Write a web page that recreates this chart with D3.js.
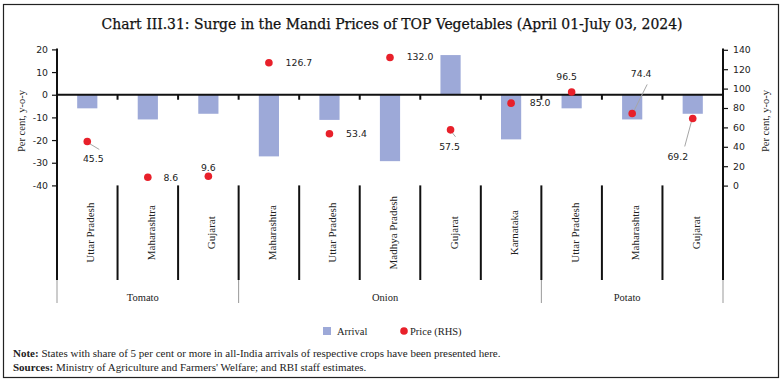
<!DOCTYPE html>
<html><head><meta charset="utf-8">
<script src="https://cdn.jsdelivr.net/npm/d3@7"></script>
<style>
html,body{margin:0;padding:0;background:#fff;}
svg{display:block;}
</style></head>
<body>
<svg id="chart" width="784" height="385"></svg>
<script>
// ---- data ----
const states = ["Uttar Pradesh","Maharashtra","Gujarat","Maharashtra","Uttar Pradesh","Madhya Pradesh","Gujarat","Karnataka","Uttar Pradesh","Maharashtra","Gujarat"];
const groupNames = ["Tomato","Onion","Potato"];
const groupSizes = [3,5,3];
const arrival = [-6.0,-10.9,-8.4,-27.2,-11.1,-29.3,17.5,-19.7,-6.0,-10.9,-8.4];
const price = [45.5,8.6,9.6,126.7,53.4,132.0,57.5,85.0,96.5,74.4,69.2];
const leftTicks = [-40,-30,-20,-10,0,10,20];
const rightTicks = [0,20,40,60,80,100,120,140];
// label layout (offsets of price labels from their dots) and leader lines
const labelOffsets = [[6,17],[23,0],[0,-9],[30,0],[27,0],[30,-1],[-1,17],[29,-1],[-5,-15],[9,-40],[-15,38]];
const leaders = [[[2,2],[12,8]],null,null,null,null,null,[[1,2],[5,7]],null,null,[[2,-3],[15,-29]],[[-1,2],[-8,28]]];

const svg = d3.select("#chart");
const serif = "'Liberation Serif', serif";
const sans = "'DejaVu Sans', sans-serif";

// border
svg.append("rect").attr("x",3.5).attr("y",4.5).attr("width",775).attr("height",373)
  .attr("fill","none").attr("stroke","#222").attr("stroke-width",1.2);

// title
const title = svg.append("text").attr("x",392).attr("y",29).attr("text-anchor","middle")
  .attr("font-family","'DejaVu Serif Condensed', serif").attr("font-size",15.5).attr("fill","#111")
  .attr("stroke","#111").attr("stroke-width",0.25)
  .text("Chart III.31: Surge in the Mandi Prices of TOP Vegetables (April 01-July 03, 2024)");
title.attr("textLength",581).attr("lengthAdjust","spacingAndGlyphs");

const x0 = 57, x1 = 723;
const x = d3.scaleBand().domain(d3.range(states.length)).range([x0,x1]).paddingInner(0).paddingOuter(0);
const bw = x.bandwidth();
const yL = d3.scaleLinear().domain([-40,20]).range([185.4,49.4]);
const yR = d3.scaleLinear().domain([0,140]).range([185.6,49.8]);
const fmt = d => String(d);

// bars
svg.append("g").selectAll("rect").data(arrival).join("rect")
  .attr("x",(d,i)=>x(i)+bw/3).attr("width",bw/3)
  .attr("y",d=>Math.min(yL(0),yL(d))).attr("height",d=>Math.abs(yL(d)-yL(0)))
  .attr("fill","#9DA9D8");

// left axis
const axL = svg.append("g").attr("transform",`translate(${x0},0)`)
  .call(d3.axisLeft(yL).tickValues(leftTicks).tickFormat(fmt).tickSize(5).tickPadding(4));
axL.select(".domain").remove();
axL.selectAll("line").attr("stroke","#111").attr("stroke-width",1.2);
axL.selectAll("text").attr("font-family",sans).attr("font-size",9.3).attr("fill","#222");

// right axis
const axR = svg.append("g").attr("transform",`translate(${x1},0)`)
  .call(d3.axisRight(yR).tickValues(rightTicks).tickFormat(fmt).tickSize(5).tickPadding(5));
axR.select(".domain").remove();
axR.selectAll("line").attr("stroke","#111").attr("stroke-width",1.2);
axR.selectAll("text").attr("font-family",sans).attr("font-size",9.3).attr("fill","#222");

const yBot = 280, yGrp = 303;
// vertical axis lines
[x0,x1].forEach(xx=>{
  svg.append("line").attr("x1",xx).attr("x2",xx).attr("y1",yL(20)-1).attr("y2",yBot).attr("stroke","#111").attr("stroke-width",2);
});
// category dividers (multi-level axis)
const bounds = d3.range(1,states.length).map(i=>x(i));
svg.append("g").selectAll("line").data(bounds).join("line")
  .attr("x1",d=>d).attr("x2",d=>d).attr("y1",yL(-40)).attr("y2",yBot)
  .attr("stroke","#111").attr("stroke-width",2);
// tick marks on zero line
svg.append("g").selectAll("line").data(bounds).join("line")
  .attr("x1",d=>d).attr("x2",d=>d).attr("y1",yL(0)).attr("y2",yL(0)+5)
  .attr("stroke","#111").attr("stroke-width",2);
// zero line
svg.append("line").attr("x1",x0).attr("x2",x1).attr("y1",yL(0)).attr("y2",yL(0))
  .attr("stroke","#111").attr("stroke-width",2);

// group separators
let acc = 0; const gStarts = [0];
groupSizes.forEach(s=>{acc+=s; gStarts.push(acc);});
svg.append("g").selectAll("line").data(gStarts).join("line")
  .attr("x1",d=>d<states.length?x(d):x1).attr("x2",d=>d<states.length?x(d):x1)
  .attr("y1",yBot).attr("y2",yGrp).attr("stroke","#999").attr("stroke-width",1);
// group labels
svg.append("g").selectAll("text").data(groupNames).join("text")
  .attr("x",(d,i)=>{const a=x(gStarts[i]); const b=gStarts[i+1]<states.length?x(gStarts[i+1]):x1; return (a+b)/2 - 5;})
  .attr("y",297).attr("dominant-baseline","central").attr("text-anchor","middle")
  .attr("font-family",serif).attr("font-size",10.5).attr("fill","#222").text(d=>d);

// category labels
svg.append("g").selectAll("text").data(states).join("text")
  .attr("transform",(d,i)=>`translate(${x(i)+bw/2+3},${(yL(-40)+yBot)/2}) rotate(-90)`)
  .attr("text-anchor","middle").attr("dominant-baseline","central")
  .attr("font-family",serif).attr("font-size",11).attr("fill","#222").text(d=>d);

// leader lines
svg.append("g").selectAll("line").data(leaders.map((l,i)=>({l,i})).filter(d=>d.l)).join("line")
  .attr("x1",d=>x(d.i)+bw/2+d.l[0][0]).attr("y1",d=>yR(price[d.i])+d.l[0][1])
  .attr("x2",d=>x(d.i)+bw/2+d.l[1][0]).attr("y2",d=>yR(price[d.i])+d.l[1][1])
  .attr("stroke","#A6A6A6").attr("stroke-width",1);

// price dots
svg.append("g").selectAll("circle").data(price).join("circle")
  .attr("cx",(d,i)=>x(i)+bw/2).attr("cy",d=>yR(d)).attr("r",3.8).attr("fill","#E8202A");

// price labels
svg.append("g").selectAll("text").data(price).join("text")
  .attr("x",(d,i)=>x(i)+bw/2+labelOffsets[i][0]).attr("y",(d,i)=>yR(d)+labelOffsets[i][1])
  .attr("text-anchor","middle").attr("dominant-baseline","central")
  .attr("font-family",sans).attr("font-size",9.3).attr("fill","#222").text(d=>d.toFixed(1));

// axis titles
svg.append("text").attr("transform","translate(21,121) rotate(-90)").attr("text-anchor","middle")
  .attr("dominant-baseline","central").attr("font-family",serif).attr("font-size",10.5).attr("fill","#222").text("Per cent, y-o-y");
svg.append("text").attr("transform","translate(765,121) rotate(-90)").attr("text-anchor","middle")
  .attr("dominant-baseline","central").attr("font-family",serif).attr("font-size",10.5).attr("fill","#222").text("Per cent, y-o-y");

// legend
const lg = svg.append("g");
lg.append("rect").attr("x",323).attr("y",327).attr("width",8).attr("height",8).attr("fill","#9DA9D8");
lg.append("text").attr("x",337).attr("y",331).attr("dominant-baseline","central").attr("font-family",serif).attr("font-size",10.5).attr("fill","#222").text("Arrival");
lg.append("circle").attr("cx",404).attr("cy",331).attr("r",3.8).attr("fill","#E8202A");
lg.append("text").attr("x",410).attr("y",331).attr("dominant-baseline","central").attr("font-family",serif).attr("font-size",10.5).attr("fill","#222").text("Price (RHS)");

// notes
const n1 = svg.append("text").attr("x",13).attr("y",353).attr("dominant-baseline","central").attr("font-family",serif).attr("font-size",11).attr("fill","#222");
n1.append("tspan").attr("font-weight","bold").text("Note:");
n1.append("tspan").text(" States with share of 5 per cent or more in all-India arrivals of respective crops have been presented here.");
const n2 = svg.append("text").attr("x",13).attr("y",367).attr("dominant-baseline","central").attr("font-family",serif).attr("font-size",11).attr("fill","#222");
n2.append("tspan").attr("font-weight","bold").text("Sources:");
n2.append("tspan").text(" Ministry of Agriculture and Farmers' Welfare; and RBI staff estimates.");
</script>
</body></html>
